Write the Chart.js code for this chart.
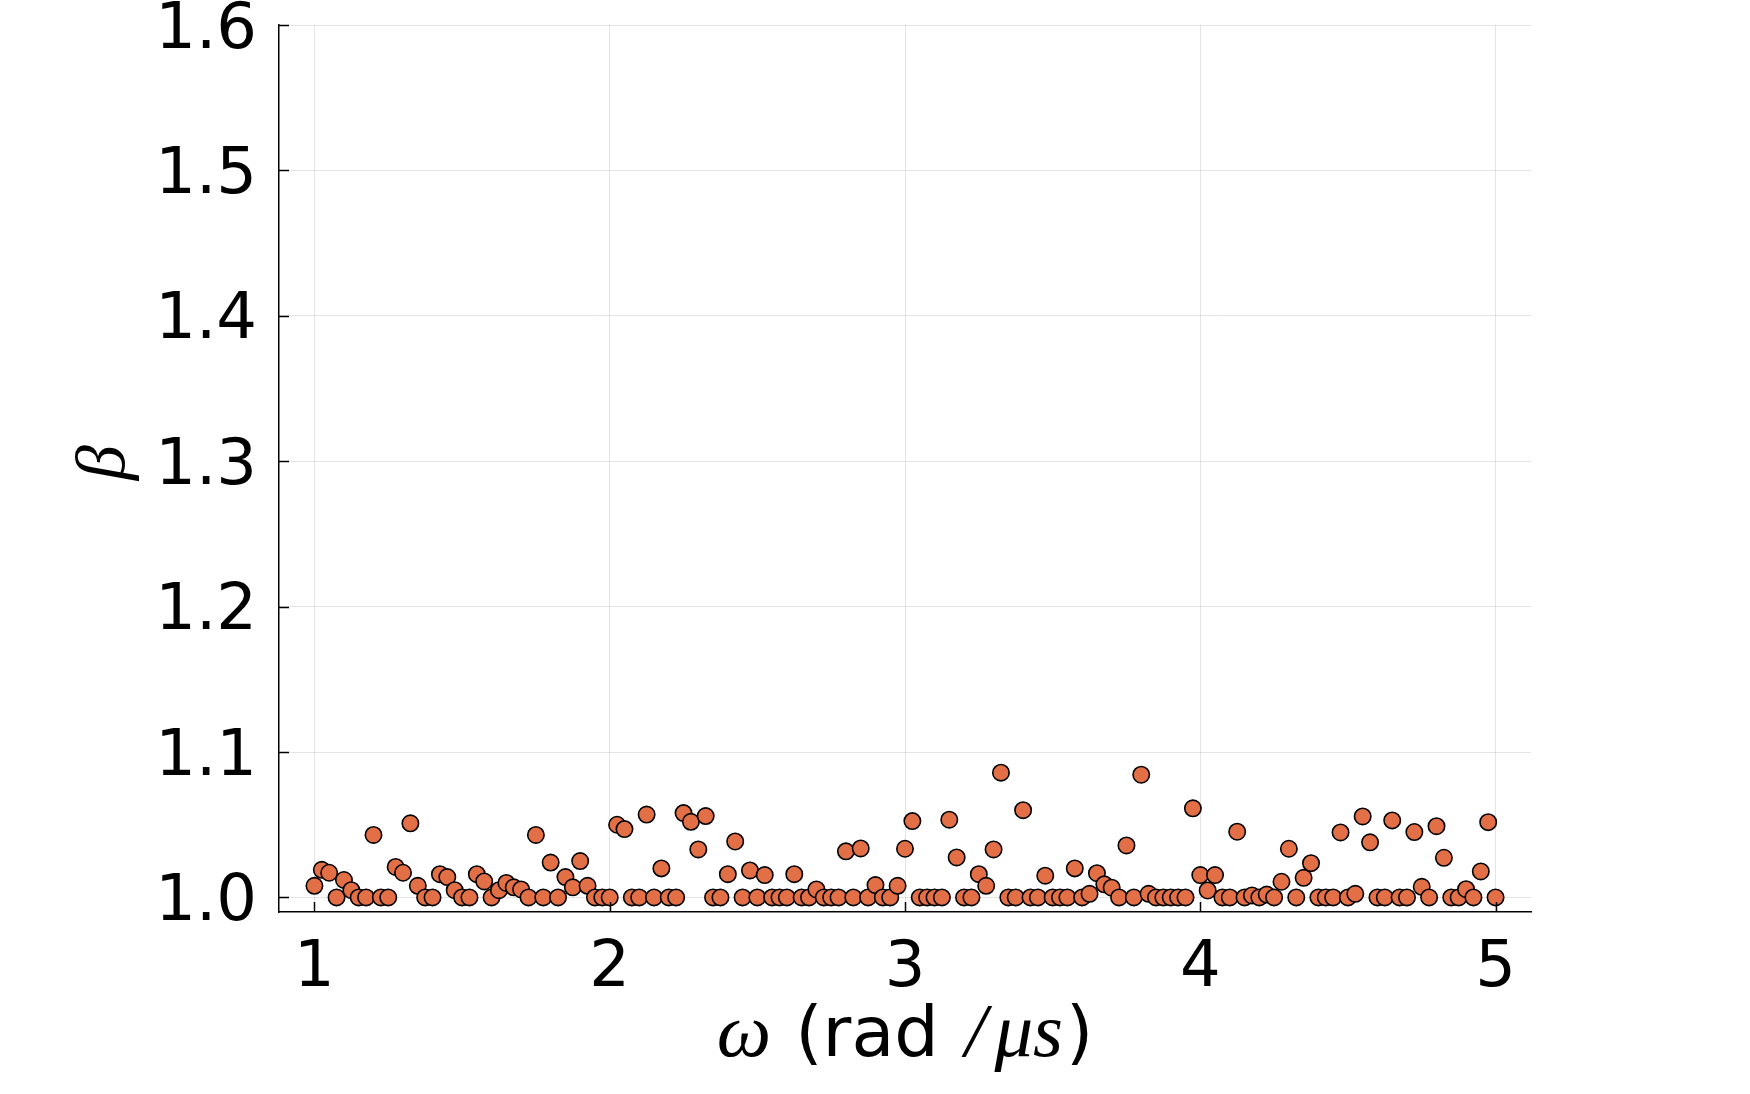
<!DOCTYPE html>
<html>
<head>
<meta charset="utf-8">
<script src="https://cdn.jsdelivr.net/npm/chart.js@4.4.1/dist/chart.umd.min.js"></script>
<style>
  html, body { margin: 0; padding: 0; background: #fff; }
  #wrap { width: 1750px; height: 1094px; }
</style>
</head>
<body>
<div id="wrap"><canvas id="chart" width="1750" height="1094"></canvas></div>
<script>
// omega grid (rad/us) and measured beta values
const omega = [
  1.000, 1.025, 1.050, 1.075, 1.100, 1.125, 1.150, 1.175, 1.200, 1.225,
  1.250, 1.275, 1.300, 1.325, 1.350, 1.375, 1.400, 1.425, 1.450, 1.475,
  1.500, 1.525, 1.550, 1.575, 1.600, 1.625, 1.650, 1.675, 1.700, 1.725,
  1.750, 1.775, 1.800, 1.825, 1.850, 1.875, 1.900, 1.925, 1.950, 1.975,
  2.000, 2.025, 2.050, 2.075, 2.100, 2.125, 2.150, 2.175, 2.200, 2.225,
  2.250, 2.275, 2.300, 2.325, 2.350, 2.375, 2.400, 2.425, 2.450, 2.475,
  2.500, 2.525, 2.550, 2.575, 2.600, 2.625, 2.650, 2.675, 2.700, 2.725,
  2.750, 2.775, 2.800, 2.825, 2.850, 2.875, 2.900, 2.925, 2.950, 2.975,
  3.000, 3.025, 3.050, 3.075, 3.100, 3.125, 3.150, 3.175, 3.200, 3.225,
  3.250, 3.275, 3.300, 3.325, 3.350, 3.375, 3.400, 3.425, 3.450, 3.475,
  3.500, 3.525, 3.550, 3.575, 3.600, 3.625, 3.650, 3.675, 3.700, 3.725,
  3.750, 3.775, 3.800, 3.825, 3.850, 3.875, 3.900, 3.925, 3.950, 3.975,
  4.000, 4.025, 4.050, 4.075, 4.100, 4.125, 4.150, 4.175, 4.200, 4.225,
  4.250, 4.275, 4.300, 4.325, 4.350, 4.375, 4.400, 4.425, 4.450, 4.475,
  4.500, 4.525, 4.550, 4.575, 4.600, 4.625, 4.650, 4.675, 4.700, 4.725,
  4.750, 4.775, 4.800, 4.825, 4.850, 4.875, 4.900, 4.925, 4.950, 4.975,
  5.000
];
const beta = [
  1.008, 1.019, 1.017, 1.000, 1.012, 1.005, 1.000, 1.000, 1.043, 1.000,
  1.000, 1.021, 1.017, 1.051, 1.008, 1.000, 1.000, 1.016, 1.014, 1.005,
  1.000, 1.000, 1.016, 1.011, 1.000, 1.005, 1.010, 1.007, 1.0055, 1.000,
  1.043, 1.000, 1.024, 1.000, 1.014, 1.007, 1.025, 1.008, 1.000, 1.000,
  1.000, 1.050, 1.047, 1.000, 1.000, 1.057, 1.000, 1.020, 1.000, 1.000,
  1.058, 1.052, 1.033, 1.056, 1.000, 1.000, 1.016, 1.0385, 1.000, 1.0186,
  1.000, 1.0154, 1.000, 1.000, 1.000, 1.016, 1.000, 1.000, 1.0055, 1.000,
  1.000, 1.000, 1.0317, 1.000, 1.0337, 1.000, 1.0085, 1.000, 1.000, 1.008,
  1.0335, 1.0525, 1.000, 1.000, 1.000, 1.000, 1.0535, 1.0275, 1.000, 1.000,
  1.016, 1.008, 1.033, 1.0858, 1.000, 1.000, 1.060, 1.000, 1.000, 1.015,
  1.000, 1.000, 1.000, 1.020, 1.000, 1.0025, 1.0167, 1.009, 1.0067, 1.000,
  1.0358, 1.000, 1.0844, 1.0025, 1.000, 1.000, 1.000, 1.000, 1.000, 1.0613,
  1.0154, 1.0048, 1.0154, 1.000, 1.000, 1.0452, 1.000, 1.0014, 1.000, 1.002,
  1.000, 1.0108, 1.0335, 1.000, 1.0135, 1.0236, 1.000, 1.000, 1.000, 1.0447,
  1.000, 1.0025, 1.0557, 1.0379, 1.000, 1.000, 1.053, 1.000, 1.000, 1.045,
  1.0073, 1.000, 1.049, 1.0273, 1.000, 1.000, 1.0057, 1.000, 1.0179, 1.0518,
  1.000
];
const xTicks = [1, 2, 3, 4, 5];
const yTicks = [1.0, 1.1, 1.2, 1.3, 1.4, 1.5, 1.6];
const xLimits = [0.88, 5.12];
const yLimits = [0.99, 1.6];

const tickFont = { family: '"DejaVu Sans"', size: 64, lineHeight: 1 };
const sans = '70px "DejaVu Sans"';
const mathIt = 'italic 77px "Liberation Serif"';
const betaFont = 'italic 70px "Liberation Serif"';

// inward tick marks + mixed-font axis titles
const axisDecor = {
  id: 'axisDecor',
  afterDraw(chart) {
    const { ctx, chartArea: a, scales: { x, y } } = chart;
    ctx.save();
    ctx.strokeStyle = '#000';
    ctx.lineWidth = 1.5;
    ctx.beginPath();
    xTicks.forEach(v => {
      const px = Math.round(x.getPixelForValue(v)) + 0.5;
      ctx.moveTo(px, a.bottom); ctx.lineTo(px, a.bottom - 10);
    });
    yTicks.forEach(v => {
      const py = Math.round(y.getPixelForValue(v)) + 0.5;
      ctx.moveTo(a.left, py); ctx.lineTo(a.left + 10, py);
    });
    ctx.stroke();

    ctx.fillStyle = '#000';
    ctx.textBaseline = 'alphabetic';
    const parts = [
      { t: 'ω', f: mathIt, gap: 2 },
      { t: ' (rad ', f: sans, gap: 4 },
      { t: '/', f: mathIt, gap: 8 },
      { t: 'μs', f: mathIt, gap: 3 },
      { t: ')', f: sans, gap: 0 }
    ];
    let total = 0;
    parts.forEach(p => { ctx.font = p.f; p.w = ctx.measureText(p.t).width; total += p.w + p.gap; });
    let cx = (a.left + a.right) / 2 - total / 2;
    parts.forEach(p => {
      ctx.font = p.f;
      ctx.textAlign = 'left';
      ctx.fillText(p.t, cx, 1056);
      cx += p.w + p.gap;
    });

    ctx.translate(124, (a.top + a.bottom) / 2 - 6);
    ctx.rotate(-Math.PI / 2);
    ctx.font = betaFont;
    ctx.textAlign = 'center';
    ctx.fillText('β', 0, 0);
    ctx.restore();
  }
};

new Chart(document.getElementById('chart'), {
  type: 'scatter',
  data: {
    datasets: [{
      data: omega.map((w, i) => ({ x: w, y: beta[i] })),
      pointRadius: 8.2,
      pointHoverRadius: 8.2,
      pointBorderWidth: 1.6,
      pointBackgroundColor: '#e26f46',
      pointBorderColor: '#000',
      showLine: false
    }]
  },
  options: {
    responsive: false,
    animation: false,
    devicePixelRatio: 1,
    events: [],
    layout: { padding: { top: 25, right: 219, left: 0, bottom: 0 } },
    plugins: { legend: { display: false }, tooltip: { enabled: false } },
    scales: {
      x: {
        type: 'linear',
        min: xLimits[0], max: xLimits[1],
        afterBuildTicks: s => { s.ticks = xTicks.map(v => ({ value: v })); },
        afterFit: s => { s.height = 182; s.paddingLeft = 0; s.paddingRight = 0; },
        ticks: { font: tickFont, color: '#000', padding: 25, maxRotation: 0, autoSkip: false,
                 callback: v => String(v) },
        grid: { color: 'rgba(0,0,0,0.1)', lineWidth: 1, drawTicks: false },
        border: { color: '#000', width: 1.5 }
      },
      y: {
        min: yLimits[0], max: yLimits[1],
        afterBuildTicks: s => { s.ticks = yTicks.map(v => ({ value: v })); },
        afterFit: s => { s.width = 279; s.paddingTop = 0; s.paddingBottom = 0; },
        ticks: { font: tickFont, color: '#000', padding: 22, autoSkip: false, labelOffset: 6,
                 callback: v => v.toFixed(1) },
        grid: { color: 'rgba(0,0,0,0.1)', lineWidth: 1, drawTicks: false },
        border: { color: '#000', width: 1.5 }
      }
    }
  },
  plugins: [axisDecor]
});
</script>
</body>
</html>
